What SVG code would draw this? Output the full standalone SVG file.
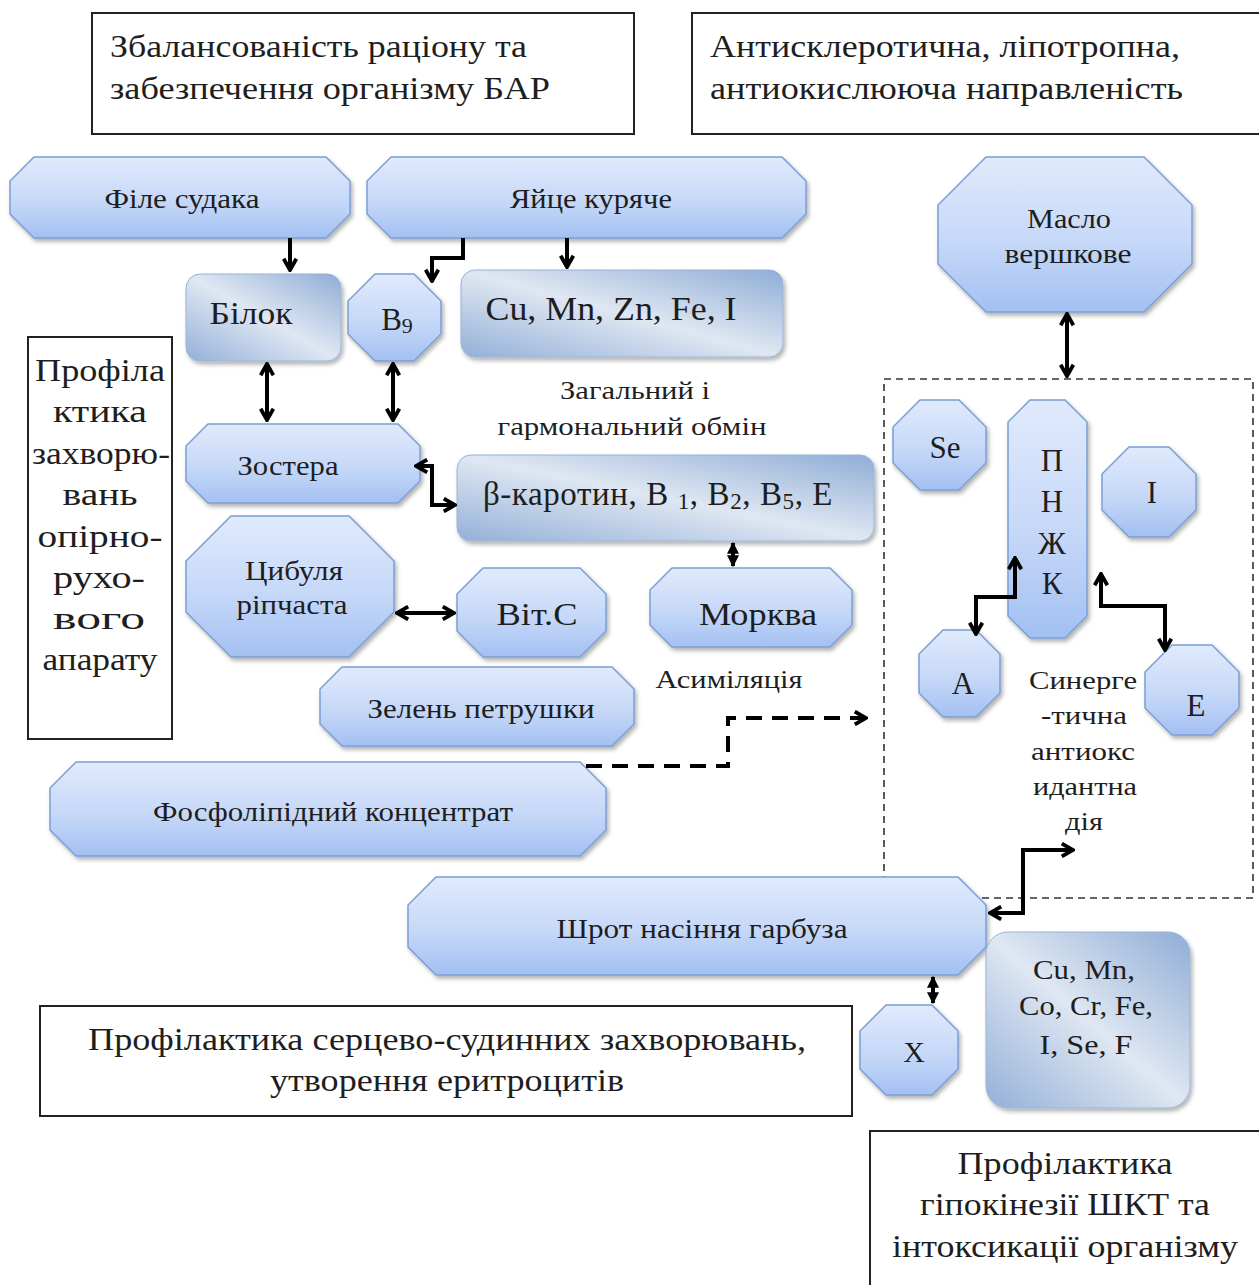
<svg xmlns="http://www.w3.org/2000/svg" width="1259" height="1285" viewBox="0 0 1259 1285">
<defs>
<linearGradient id="oct" x1="0" y1="0" x2="0" y2="1">
<stop offset="0" stop-color="#e0eafc"/>
<stop offset="0.55" stop-color="#c6d8f8"/>
<stop offset="1" stop-color="#a3c0f2"/>
</linearGradient>
<linearGradient id="rr" x1="0" y1="1" x2="1" y2="0">
<stop offset="0" stop-color="#93b0d8"/>
<stop offset="0.5" stop-color="#dfe7f2"/>
<stop offset="1" stop-color="#8fadd6"/>
</linearGradient>
<filter id="sh" x="-10%" y="-10%" width="130%" height="130%">
<feDropShadow dx="2" dy="3" stdDeviation="2" flood-color="#000" flood-opacity="0.3"/>
</filter>
<marker id="ah" viewBox="0 0 10 10" refX="8.5" refY="5" markerWidth="16" markerHeight="16" markerUnits="userSpaceOnUse" orient="auto-start-reverse">
<path d="M1.5,1 L8.5,5 L1.5,9" fill="none" stroke="#000" stroke-width="2.4"/>
</marker>
<marker id="dm" viewBox="0 0 10 10" refX="9" refY="5" markerWidth="12" markerHeight="12" markerUnits="userSpaceOnUse" orient="auto-start-reverse">
<path d="M0,0 L10,5 L0,10 Z" fill="#000"/>
</marker>
</defs>
<style>
.oct{fill:url(#oct);stroke:#7b9fd3;stroke-width:1.5;filter:url(#sh)}
.rr{fill:url(#rr);stroke:#9ab3d6;stroke-width:1;filter:url(#sh)}
.box{fill:#fff;stroke:#222;stroke-width:2}
.t{font-family:"Liberation Serif","DejaVu Serif",serif;fill:#1e1e1e;text-anchor:middle}
.tl{font-family:"Liberation Serif","DejaVu Serif",serif;fill:#1e1e1e}
.c{fill:none;stroke:#000;stroke-width:4}
.d{fill:none;stroke:#000;stroke-width:4;stroke-dasharray:16 10}
</style>
<rect width="1259" height="1285" fill="#fff"/>

<g id="box-top-left"><rect class="box" x="92" y="13" width="542" height="121"/>
<text class="tl" x="110" y="57" font-size="31" textLength="417" lengthAdjust="spacingAndGlyphs">Збалансованість раціону та</text>
<text class="tl" x="110" y="99" font-size="31" textLength="440" lengthAdjust="spacingAndGlyphs">забезпечення організму БАР</text></g>
<g id="box-top-right"><rect class="box" x="692" y="13" width="570" height="121"/>
<text class="tl" x="710" y="57" font-size="31" textLength="470" lengthAdjust="spacingAndGlyphs">Антисклеротична, ліпотропна,</text>
<text class="tl" x="710" y="99" font-size="31" textLength="473" lengthAdjust="spacingAndGlyphs">антиокислююча направленість</text></g>
<g id="box-left"><rect class="box" x="28" y="337" width="144" height="402"/>
<text class="t" x="100" y="381" font-size="31" textLength="130" lengthAdjust="spacingAndGlyphs">Профіла</text>
<text class="t" x="100" y="422" font-size="31" textLength="94" lengthAdjust="spacingAndGlyphs">ктика</text>
<text class="t" x="101" y="464" font-size="31" textLength="138" lengthAdjust="spacingAndGlyphs">захворю-</text>
<text class="t" x="100" y="505" font-size="31" textLength="75" lengthAdjust="spacingAndGlyphs">вань</text>
<text class="t" x="100" y="547" font-size="31" textLength="125" lengthAdjust="spacingAndGlyphs">опірно-</text>
<text class="t" x="99" y="588" font-size="31" textLength="92" lengthAdjust="spacingAndGlyphs">рухо-</text>
<text class="t" x="99" y="629" font-size="31" textLength="92" lengthAdjust="spacingAndGlyphs">вого</text>
<text class="t" x="100" y="670" font-size="31" textLength="115" lengthAdjust="spacingAndGlyphs">апарату</text></g>
<g id="box-bottom"><rect class="box" x="40" y="1006" width="812" height="110"/>
<text class="t" x="447" y="1050" font-size="31" textLength="718" lengthAdjust="spacingAndGlyphs">Профілактика серцево-судинних захворювань,</text>
<text class="t" x="447" y="1091" font-size="31" textLength="354" lengthAdjust="spacingAndGlyphs">утворення еритроцитів</text></g>
<g id="box-bottom-right"><rect class="box" x="870" y="1131" width="392" height="160"/>
<text class="t" x="1065" y="1174" font-size="31" textLength="215" lengthAdjust="spacingAndGlyphs">Профілактика</text>
<text class="t" x="1065" y="1215" font-size="31" textLength="290" lengthAdjust="spacingAndGlyphs">гіпокінезії ШКТ та</text>
<text class="t" x="1065" y="1257" font-size="31" textLength="346" lengthAdjust="spacingAndGlyphs">інтоксикації організму</text></g>

<g id="group-dashed"><rect x="884" y="379" width="369" height="519" fill="none" stroke="#333" stroke-width="1.6" stroke-dasharray="7 5"/></g>

<g id="node-file"><polygon class="oct" points="34,157 326,157 350,181 350,214 326,238 34,238 10,214 10,181"/>
<text class="t" x="182" y="208" font-size="27" textLength="155" lengthAdjust="spacingAndGlyphs">Філе судака</text></g>
<g id="node-yaitse"><polygon class="oct" points="391,157 782,157 806,181 806,214 782,238 391,238 367,214 367,181"/>
<text class="t" x="591" y="208" font-size="27" textLength="162" lengthAdjust="spacingAndGlyphs">Яйце куряче</text></g>
<g id="node-bilok"><rect class="rr" x="186" y="274" width="155" height="87" rx="14"/>
<text class="t" x="251" y="324" font-size="32" textLength="83" lengthAdjust="spacingAndGlyphs">Білок</text></g>
<g id="node-b9"><polygon class="oct" points="375,274 414,274 441,301 441,334 414,361 375,361 348,334 348,301"/>
<text class="t" x="397" y="330" font-size="31">B<tspan font-size="22" dy="3">9</tspan></text></g>
<g id="node-cu1"><rect class="rr" x="461" y="270" width="322" height="87" rx="14"/>
<text class="t" x="611" y="320" font-size="33" textLength="251" lengthAdjust="spacingAndGlyphs">Cu, Mn, Zn, Fe, I</text></g>
<g id="node-maslo"><polygon class="oct" points="986,157 1144,157 1192,205 1192,264 1144,312 986,312 938,264 938,205"/>
<text class="t" x="1069" y="228" font-size="28" textLength="84" lengthAdjust="spacingAndGlyphs">Масло</text>
<text class="t" x="1068" y="263" font-size="28" textLength="127" lengthAdjust="spacingAndGlyphs">вершкове</text></g>
<g id="node-zostera"><polygon class="oct" points="208,424 398,424 420,446 420,481 398,503 208,503 186,481 186,446"/>
<text class="t" x="288" y="475" font-size="27" textLength="101" lengthAdjust="spacingAndGlyphs">Зостера</text></g>
<g id="node-beta"><rect class="rr" x="457" y="455" width="417" height="86" rx="14"/>
<text class="t" x="658" y="505" font-size="33" letter-spacing="0.6">β-каротин, B <tspan font-size="23" dy="4">1</tspan><tspan dy="-4">, B</tspan><tspan font-size="23" dy="4">2</tspan><tspan dy="-4">, B</tspan><tspan font-size="23" dy="4">5</tspan><tspan dy="-4">, E</tspan></text></g>
<g id="node-tsybulia"><polygon class="oct" points="231,516 349,516 394,561 394,612 349,657 231,657 186,612 186,561"/>
<text class="t" x="294" y="580" font-size="27" textLength="98" lengthAdjust="spacingAndGlyphs">Цибуля</text>
<text class="t" x="292" y="614" font-size="27" textLength="111" lengthAdjust="spacingAndGlyphs">ріпчаста</text></g>
<g id="node-vitc"><polygon class="oct" points="483,568 580,568 606,594 606,631 580,657 483,657 457,631 457,594"/>
<text class="t" x="537" y="625" font-size="32" textLength="81" lengthAdjust="spacingAndGlyphs">Віт.С</text></g>
<g id="node-morkva"><polygon class="oct" points="672,568 830,568 852,590 852,625 830,647 672,647 650,625 650,590"/>
<text class="t" x="758" y="625" font-size="32" textLength="118" lengthAdjust="spacingAndGlyphs">Морква</text></g>
<g id="node-zelen"><polygon class="oct" points="342,667 612,667 634,689 634,724 612,746 342,746 320,724 320,689"/>
<text class="t" x="481" y="718" font-size="27" textLength="227" lengthAdjust="spacingAndGlyphs">Зелень петрушки</text></g>
<g id="node-fosfo"><polygon class="oct" points="76,762 580,762 606,788 606,830 580,856 76,856 50,830 50,788"/>
<text class="t" x="333" y="821" font-size="27" textLength="360" lengthAdjust="spacingAndGlyphs">Фосфоліпідний концентрат</text></g>
<g id="node-shrot"><polygon class="oct" points="436,877 958,877 986,905 986,947 958,975 436,975 408,947 408,905"/>
<text class="t" x="702" y="938" font-size="27" textLength="291" lengthAdjust="spacingAndGlyphs">Шрот насіння гарбуза</text></g>
<g id="node-x"><polygon class="oct" points="886,1005 932,1005 958,1031 958,1069 932,1095 886,1095 860,1069 860,1031"/>
<text class="t" x="914" y="1062" font-size="30">X</text></g>
<g id="node-cu2"><rect class="rr" x="986" y="932" width="204" height="176" rx="22"/>
<text class="t" x="1084" y="979" font-size="27" textLength="102" lengthAdjust="spacingAndGlyphs">Cu, Mn,</text>
<text class="t" x="1086" y="1015" font-size="27" textLength="134" lengthAdjust="spacingAndGlyphs">Co, Cr, Fe,</text>
<text class="t" x="1086" y="1054" font-size="27" textLength="93" lengthAdjust="spacingAndGlyphs">I, Se, F</text></g>
<g id="node-se"><polygon class="oct" points="920,400 959,400 986,427 986,463 959,490 920,490 893,463 893,427"/>
<text class="t" x="945" y="458" font-size="31">Se</text></g>
<g id="node-pnzhk"><polygon class="oct" points="1030,400 1065,400 1087,422 1087,616 1065,638 1030,638 1008,616 1008,422"/>
<text class="t" x="1052" y="471" font-size="31">П</text>
<text class="t" x="1052" y="512" font-size="31">Н</text>
<text class="t" x="1052" y="554" font-size="31">Ж</text>
<text class="t" x="1052" y="594" font-size="31">К</text></g>
<g id="node-i"><polygon class="oct" points="1129,447 1169,447 1196,474 1196,510 1169,537 1129,537 1102,510 1102,474"/>
<text class="t" x="1152" y="503" font-size="31">I</text></g>
<g id="node-a"><polygon class="oct" points="943,630 976,630 1000,654 1000,693 976,717 943,717 919,693 919,654"/>
<text class="t" x="963" y="694" font-size="31">A</text></g>
<g id="node-e"><polygon class="oct" points="1172,645 1212,645 1239,672 1239,708 1212,735 1172,735 1145,708 1145,672"/>
<text class="t" x="1196" y="716" font-size="31">E</text></g>

<g id="labels">
<text class="t" x="635" y="399" font-size="26" textLength="150" lengthAdjust="spacingAndGlyphs">Загальний і</text>
<text class="t" x="632" y="435" font-size="26" textLength="269" lengthAdjust="spacingAndGlyphs">гармональний обмін</text>
<text class="t" x="729" y="688" font-size="26" textLength="147" lengthAdjust="spacingAndGlyphs">Асиміляція</text>
<text class="t" x="1083" y="689" font-size="26" textLength="108" lengthAdjust="spacingAndGlyphs">Синерге</text>
<text class="t" x="1084" y="724" font-size="26" textLength="86" lengthAdjust="spacingAndGlyphs">-тична</text>
<text class="t" x="1083" y="760" font-size="26" textLength="104" lengthAdjust="spacingAndGlyphs">антиокс</text>
<text class="t" x="1085" y="795" font-size="26" textLength="104" lengthAdjust="spacingAndGlyphs">идантна</text>
<text class="t" x="1084" y="830" font-size="26" textLength="38" lengthAdjust="spacingAndGlyphs">дія</text>
</g>

<g id="connectors">
<path class="c" d="M290,238 V270" marker-end="url(#ah)"/>
<path class="c" d="M463,238 V258 H432 V281" marker-end="url(#ah)"/>
<path class="c" d="M567,238 V267" marker-end="url(#ah)"/>
<path class="c" d="M267,364 V420" marker-start="url(#ah)" marker-end="url(#ah)"/>
<path class="c" d="M393,364 V420" marker-start="url(#ah)" marker-end="url(#ah)"/>
<path class="c" d="M416,466 H432 V505 H455" marker-start="url(#ah)" marker-end="url(#ah)"/>
<path class="c" d="M733,543 V566" marker-start="url(#dm)" marker-end="url(#dm)"/>
<path class="c" d="M397,613 H454" marker-start="url(#ah)" marker-end="url(#ah)"/>
<path class="d" d="M586,766 H728 V718 H866" marker-end="url(#ah)"/>
<path class="c" d="M1067,314 V376" marker-start="url(#ah)" marker-end="url(#ah)"/>
<path class="c" d="M1015,558 V597 H976 V634" marker-start="url(#ah)" marker-end="url(#ah)"/>
<path class="c" d="M1101,574 V606 H1165 V650" marker-start="url(#ah)" marker-end="url(#ah)"/>
<path class="c" d="M990,913 H1023 V850 H1073" marker-start="url(#ah)" marker-end="url(#ah)"/>
<path class="c" d="M933,977 V1003" marker-start="url(#dm)" marker-end="url(#dm)"/>
</g>
</svg>
